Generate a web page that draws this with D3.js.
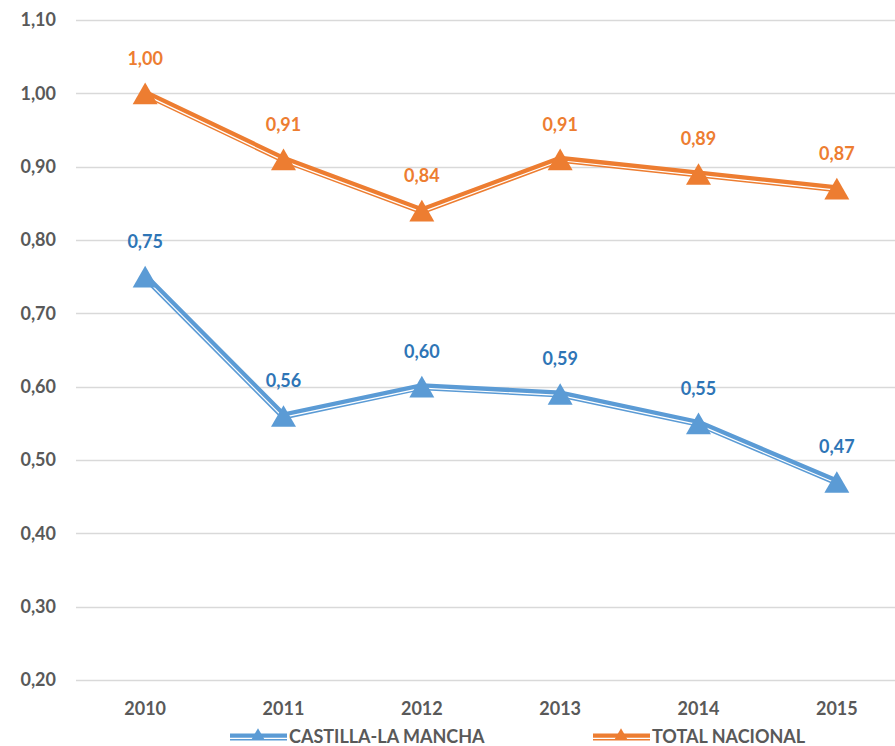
<!DOCTYPE html>
<html>
<head>
<meta charset="utf-8">
<script src="https://cdn.jsdelivr.net/npm/d3@7"></script>
<style>
  html, body { margin: 0; padding: 0; background: #fff; }
  svg { display: block; font-family: Lato, "Open Sans", sans-serif; }
  .tick-label { fill: #595959; font-weight: bold; font-size: 18px; }
  .legend-label { fill: #595959; font-weight: bold; font-size: 18px; }
  .val-label { font-weight: bold; font-size: 18px; }
</style>
</head>
<body>
<svg id="chart" width="895" height="746"></svg>
<script>
const years = ['2010', '2011', '2012', '2013', '2014', '2015'];
const castillaValues = [0.75, 0.56, 0.60, 0.59, 0.55, 0.47];
const nacionalValues = [1.00, 0.91, 0.84, 0.91, 0.89, 0.87];
const yTicks = [0.2, 0.3, 0.4, 0.5, 0.6, 0.7, 0.8, 0.9, 1.0, 1.1];

const series = [
  { name: 'CASTILLA-LA MANCHA', values: castillaValues, color: '#5B9BD5', labelColor: '#2E75B6', legendX: 230 },
  { name: 'TOTAL NACIONAL', values: nacionalValues, color: '#ED7D31', labelColor: '#ED7D31', legendX: 593 },
];

const width = 895, height = 746;
const margin = { left: 76, right: -11, top: 20, bottom: 66 };

const svg = d3.select('#chart');

const x = d3.scaleBand()
  .domain(years)
  .range([margin.left, width - margin.right]);

const y = d3.scaleLinear()
  .domain([0.2, 1.1])
  .range([height - margin.bottom, margin.top]);

const fmt = v => d3.format('.2f')(v).replace('.', ',');
const cx = d => x(d) + x.bandwidth() / 2;

// gridlines
svg.append('g')
  .selectAll('line')
  .data(yTicks)
  .join('line')
  .attr('x1', margin.left)
  .attr('x2', width)
  .attr('y1', d => Math.round(y(d)) + 0.5)
  .attr('y2', d => Math.round(y(d)) + 0.5)
  .attr('stroke', '#d9d9d9')
  .attr('stroke-width', 1.5);

// y labels
svg.append('g')
  .selectAll('text')
  .data(yTicks)
  .join('text')
  .attr('class', 'tick-label')
  .attr('x', 56)
  .attr('y', d => y(d))
  .attr('dy', '0.35em')
  .attr('text-anchor', 'end')
  .text(fmt);

// x labels
svg.append('g')
  .selectAll('text')
  .data(years)
  .join('text')
  .attr('class', 'tick-label')
  .attr('x', d => cx(d))
  .attr('y', 709)
  .attr('dy', '0.35em')
  .attr('text-anchor', 'middle')
  .text(d => d);

// offset polyline: shift points along the averaged normal
function offsetPoints(pts, off) {
  return pts.map((p, i) => {
    const normals = [];
    if (i > 0) normals.push(segNormal(pts[i - 1], p));
    if (i < pts.length - 1) normals.push(segNormal(p, pts[i + 1]));
    let nx = d3.mean(normals, n => n[0]);
    let ny = d3.mean(normals, n => n[1]);
    const len = Math.hypot(nx, ny) || 1;
    return [p[0] + nx / len * off, p[1] + ny / len * off];
  });
}
function segNormal(a, b) {
  const dx = b[0] - a[0], dy = b[1] - a[1];
  const l = Math.hypot(dx, dy);
  // normal pointing to the lower-left side of travel
  return [-dy / l, dx / l];
}

const line = d3.line();

// triangle centred on its bounding box rather than its centroid
function triangle(size) {
  const h = Math.sqrt(size / (Math.sqrt(3) * 3));
  return { d: d3.symbol().type(d3.symbolTriangle).size(size)(), dy: h / 2 };
}
const bigTri = triangle(270);
const smallTri = triangle(80);

function drawDoubleLine(g, pts, color, w) {
  g.append('path')
    .attr('d', line(pts))
    .attr('fill', 'none')
    .attr('stroke', color)
    .attr('stroke-width', w)
    .attr('stroke-linejoin', 'round');
  g.append('path')
    .attr('d', line(offsetPoints(pts, w * 0.2)))
    .attr('fill', 'none')
    .attr('stroke', '#fff')
    .attr('stroke-width', 1.2)
    .attr('stroke-linejoin', 'round');
}

series.forEach(s => {
  const g = svg.append('g');
  const pts = years.map((yr, i) => [cx(yr), y(s.values[i])]);
  drawDoubleLine(g, pts, s.color, 7);

  g.selectAll('path.marker')
    .data(years)
    .join('path')
    .attr('class', 'marker')
    .attr('d', bigTri.d)
    .attr('transform', (d, i) => `translate(${cx(d)},${y(s.values[i]) + bigTri.dy})`)
    .attr('fill', s.color);

  g.selectAll('text.val-label')
    .data(years)
    .join('text')
    .attr('class', 'val-label')
    .attr('x', d => cx(d))
    .attr('y', (d, i) => y(s.values[i]) - 35)
    .attr('dy', '0.35em')
    .attr('text-anchor', 'middle')
    .attr('fill', s.labelColor)
    .text((d, i) => fmt(s.values[i]));

  // legend
  const lg = svg.append('g');
  const ly = 737;
  drawDoubleLine(lg, [[s.legendX, ly], [s.legendX + 57, ly]], s.color, 7);
  lg.append('path')
    .attr('d', smallTri.d)
    .attr('transform', `translate(${s.legendX + 28},${ly - 1})`)
    .attr('fill', s.color);
  lg.append('text')
    .attr('class', 'legend-label')
    .attr('x', s.legendX + 59)
    .attr('y', ly)
    .attr('dy', '0.35em')
    .text(s.name);
});
</script>
</body>
</html>
